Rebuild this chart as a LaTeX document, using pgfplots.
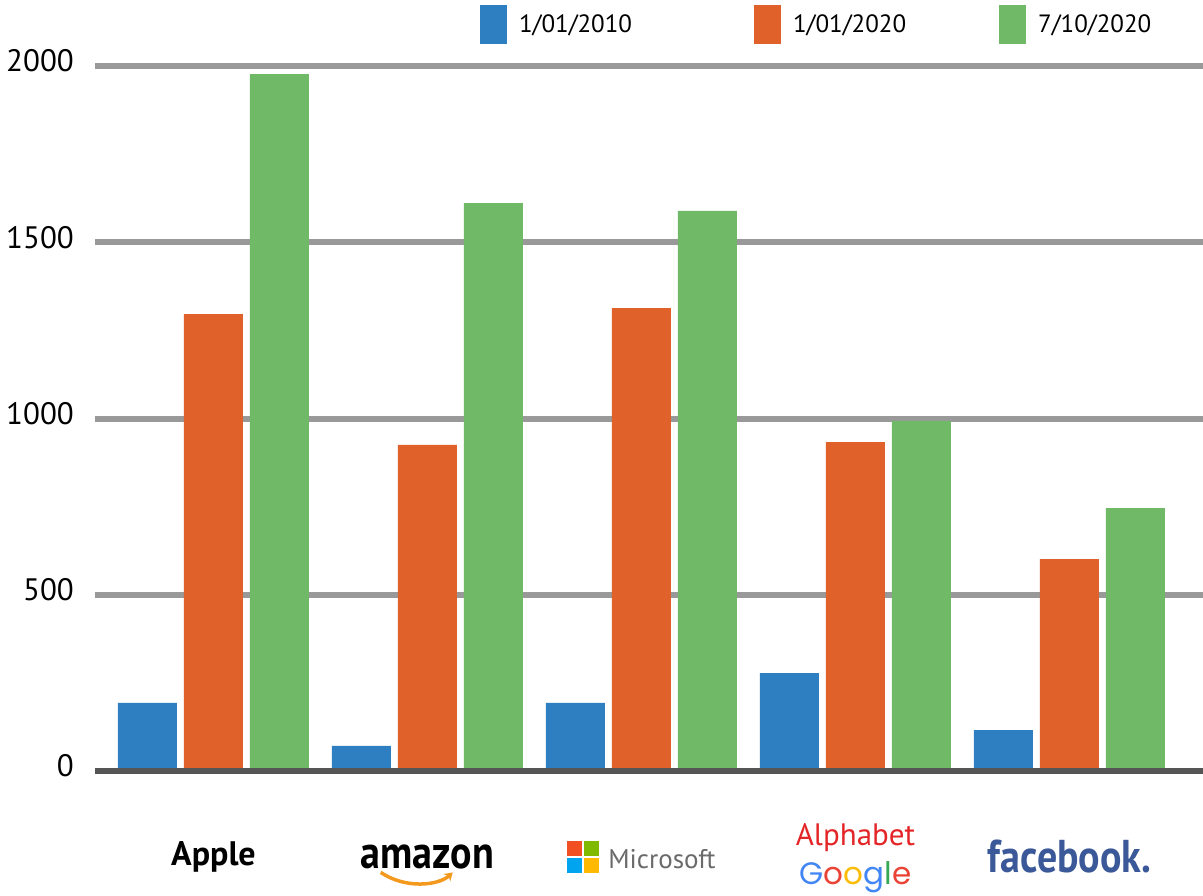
\documentclass[border=0pt]{standalone}
\usepackage{fontspec}
\setmainfont{PT Sans}
\newfontfamily\googlefont{Poppins}
\usepackage{graphicx}
\usepackage{pgfplots}
\pgfplotsset{compat=1.18}
\usetikzlibrary{arrows.meta}

\definecolor{barblue}{HTML}{2E7EC2}
\definecolor{barorange}{HTML}{E0612A}
\definecolor{bargreen}{HTML}{70B967}
\definecolor{gridgray}{HTML}{999999}
\definecolor{axisgray}{HTML}{555555}
\definecolor{amzorange}{HTML}{F39A1E}
\definecolor{msred}{HTML}{F25022}
\definecolor{msgreen}{HTML}{7FBA00}
\definecolor{msblue}{HTML}{00A4EF}
\definecolor{msyellow}{HTML}{FFB900}
\definecolor{msgray}{HTML}{6A6A6A}
\definecolor{alphred}{HTML}{E42527}
\definecolor{gblue}{HTML}{4285F4}
\definecolor{gred}{HTML}{EA4335}
\definecolor{gyellow}{HTML}{FBBC05}
\definecolor{ggreen}{HTML}{34A853}
\definecolor{fbblue}{HTML}{3B5998}

\newcommand{\applelogo}{{\fontsize{34}{34}\selectfont\bfseries Apple}}
\newcommand{\amazonlogo}{\tikz[baseline=(t.base)]{%
  \node[inner sep=0pt, font=\fontsize{40}{40}\selectfont\bfseries] (t) {\scalebox{1}[1.15]{amazon}};
  \draw[overlay, amzorange, line width=3.5pt, -{Stealth[length=8pt,width=10pt]}]
    ([xshift=20pt,yshift=-3pt]t.south west) .. controls ([xshift=45pt,yshift=-20pt]t.south west)
    and ([xshift=78pt,yshift=-16pt]t.south west) .. ([xshift=92pt,yshift=-3pt]t.south west);}}
\newcommand{\mslogo}{\raisebox{-5pt}{\vbox{\offinterlineskip
  \hbox{\textcolor{msred}{\rule{15pt}{15pt}}\kern2pt\textcolor{msgreen}{\rule{15pt}{15pt}}}\kern2pt
  \hbox{\textcolor{msblue}{\rule{15pt}{15pt}}\kern2pt\textcolor{msyellow}{\rule{15pt}{15pt}}}}}%
  \kern9pt\textcolor{msgray}{\fontsize{27}{27}\selectfont Microsoft}}
\newcommand{\googlelogo}{{\fontsize{31}{39}\selectfont\begin{tabular}{@{}c@{}}%
  \textcolor{alphred}{\fontsize{31}{39}\selectfont Alphabet}\\
  {\googlefont\textcolor{gblue}{G}\textcolor{gred}{o}\textcolor{gyellow}{o}\textcolor{gblue}{g}\textcolor{ggreen}{l}\textcolor{gred}{e}}%
  \end{tabular}}}
\newcommand{\fblogo}{\textcolor{fbblue}{\fontsize{40}{40}\selectfont\bfseries\scalebox{1}[1.15]{facebook.}}}

\begin{document}
\begin{tikzpicture}
\begin{axis}[
  name=ax,
  scale only axis,
  width=1108pt, height=705pt,
  xmin=-0.5537, xmax=4.624,
  ymin=0, ymax=2000,
  clip=false,
  ybar, bar width=59pt,
  axis line style={draw=none},
  major tick length=0pt,
  ytick={0,500,1000,1500,2000},
  ymajorgrids,
  major grid style={draw=gridgray, line width=6pt},
  xtick={0,1,2,3,4},
  xticklabels={{\applelogo},{\amazonlogo},{\mslogo},{\googlelogo},{\fblogo}},
  xticklabel style={anchor=center, yshift=-86pt},
  yticklabel style={anchor=east, inner sep=0pt, xshift=-21pt, yshift=5pt, font=\fontsize{31}{31}\selectfont},
  /pgf/number format/assume math mode=true,
  /pgf/number format/1000 sep={},
  legend columns=3,
  legend style={draw=none, fill=none, at={(0.3475,1)}, anchor=north west, yshift=61pt,
    inner sep=0pt, outer sep=0pt, column sep=12pt,
    font=\fontsize{25}{25}\selectfont, nodes={inner sep=0pt}},
  legend image code/.code={\fill[#1] (0pt,-19.5pt) rectangle (27pt,19.5pt);},
]
\addplot[fill=barblue, draw=none, bar shift=-66pt] coordinates {(0,193) (1,71) (2,193) (3,278) (4,116)};
\addplot[fill=barorange, draw=none, bar shift=0pt] coordinates {(0,1296) (1,925) (2,1313) (3,933) (4,601)};
\addplot[fill=bargreen, draw=none, bar shift=66pt] coordinates {(0,1977) (1,1611) (2,1589) (3,993) (4,746)};
\addplot[sharp plot, forget plot, draw=axisgray, line width=6pt] coordinates {(-0.5537,0) (4.624,0)};
\addlegendentry{1/01/2010\hspace*{110pt}}
\addlegendentry{1/01/2020\hspace*{81pt}}
\addlegendentry{7/10/2020}
\end{axis}
\pgfresetboundingbox
\path[use as bounding box] ([xshift=-95pt,yshift=-124pt]ax.south west) rectangle ([yshift=66pt]ax.north east);
\end{tikzpicture}
\end{document}
